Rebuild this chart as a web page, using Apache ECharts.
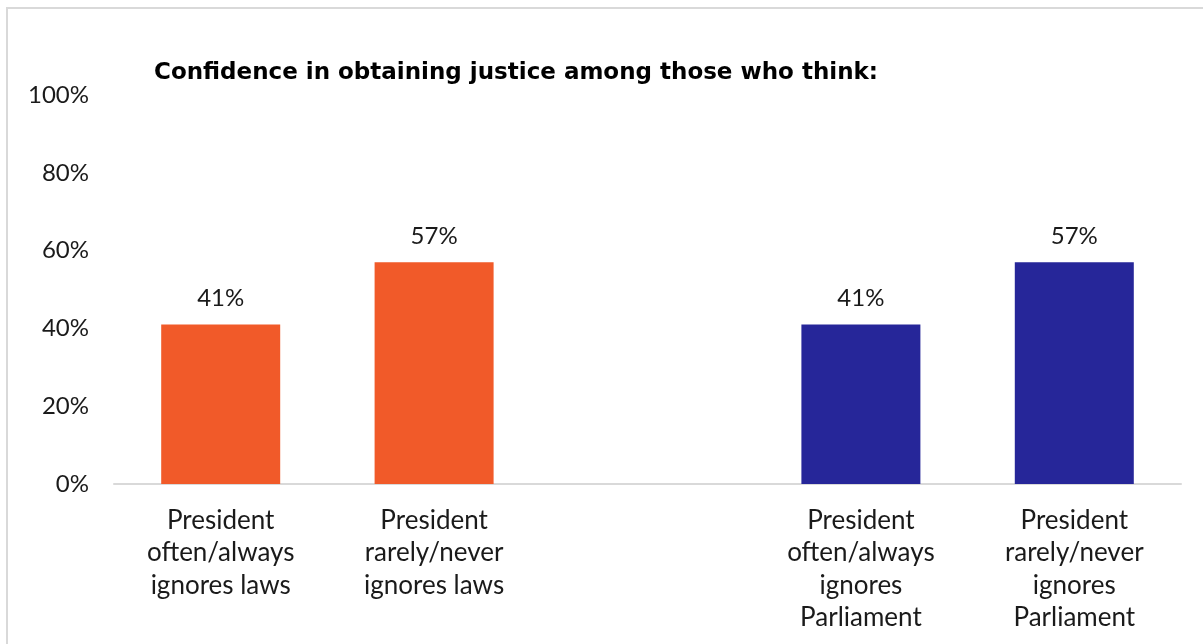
<!DOCTYPE html>
<html>
<head>
<meta charset="utf-8">
<script src="https://cdn.jsdelivr.net/npm/echarts@6/dist/echarts.min.js"></script>
<style>
  html, body { margin: 0; padding: 0; background: #fff; }
  #chart { width: 1203px; height: 644px; }
</style>
</head>
<body>
<div id="chart"></div>
<script>
// Categories (middle slot left blank to separate the two groups)
const categories = [
  'President\noften/always\nignores laws',
  'President\nrarely/never\nignores laws',
  '',
  'President\noften/always\nignores\nParliament',
  'President\nrarely/never\nignores\nParliament'
];
const confidence = [41, 57, '-', 41, 57];
const barColors = ['#F15A29', '#F15A29', '#F15A29', '#262699', '#262699'];
const yTicks = [0, 20, 40, 60, 80, 100];
const titleText = 'Confidence in obtaining justice among those who think:';

const FONT = 'Lato, "Noto Sans", sans-serif';

const chart = echarts.init(document.getElementById('chart'));
chart.setOption({
  animation: false,
  title: {
    text: titleText,
    left: 149,
    top: 57,
    textStyle: { fontFamily: '"DejaVu Sans", sans-serif', fontSize: 23, fontWeight: 'bold', color: '#000' }
  },
  graphic: [{
    type: 'rect',
    shape: { x: 7, y: 8, width: 1260, height: 700 },
    style: { fill: 'none', stroke: '#d9d9d9', lineWidth: 2 },
    silent: true
  }],
  grid: { left: 114, right: 22, top: 95, bottom: 160 },
  xAxis: {
    type: 'category',
    data: categories,
    axisLine: { show: true, lineStyle: { color: '#d9d9d9', width: 2 } },
    axisTick: { show: false },
    axisLabel: {
      interval: 0,
      margin: 20,
      fontFamily: FONT,
      fontSize: 26,
      lineHeight: 32.5,
      color: '#1a1a1a'
    }
  },
  yAxis: {
    type: 'value',
    min: yTicks[0],
    max: yTicks[yTicks.length - 1],
    interval: yTicks[1] - yTicks[0],
    splitLine: { show: false },
    axisLine: { show: false },
    axisTick: { show: false },
    axisLabel: {
      margin: 25,
      fontFamily: FONT,
      fontSize: 24,
      color: '#1a1a1a',
      formatter: v => v + '%'
    }
  },
  series: [{
    type: 'bar',
    barWidth: 119,
    data: confidence.map((v, i) => ({ value: v, itemStyle: { color: barColors[i] } })),
    label: {
      show: true,
      position: 'top',
      distance: 14,
      fontFamily: FONT,
      fontSize: 24,
      color: '#1a1a1a',
      formatter: p => p.value + '%'
    }
  }]
});
</script>
</body>
</html>
